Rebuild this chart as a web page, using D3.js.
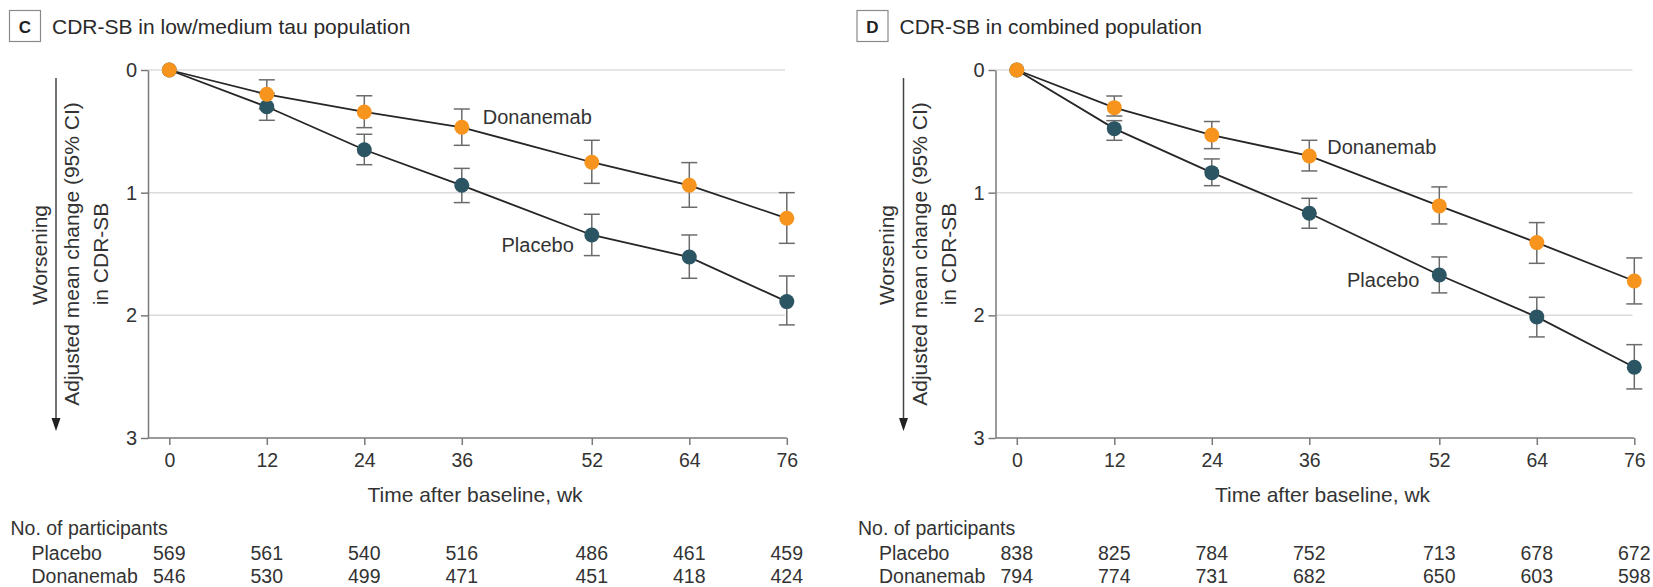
<!DOCTYPE html>
<html>
<head>
<meta charset="utf-8">
<script src="https://cdn.jsdelivr.net/npm/d3@7"></script>
<style>
  body { margin: 0; background: #fff; }
  text { font-family: "Liberation Sans", Arial, sans-serif; fill: #333; }
</style>
</head>
<body>
<svg id="chart" width="1653" height="587"></svg>
<script>
// Visit schedule (weeks after baseline)
const weeks = [0, 12, 24, 36, 52, 64, 76];
const yTicks = [0, 1, 2, 3];

// Panel C: low/medium tau population — adjusted mean change in CDR-SB with 95% CI
const cPlaceboMean = [0, 0.30, 0.65, 0.94, 1.345, 1.525, 1.888];
const cPlaceboLo   = [null, 0.19, 0.524, 0.802, 1.176, 1.345, 1.679];
const cPlaceboHi   = [null, 0.41, 0.772, 1.081, 1.513, 1.698, 2.078];
const cDonaMean    = [0, 0.198, 0.342, 0.467, 0.752, 0.94, 1.209];
const cDonaLo      = [null, 0.08, 0.21, 0.318, 0.573, 0.755, 1.0];
const cDonaHi      = [null, 0.316, 0.47, 0.614, 0.924, 1.119, 1.413];
const cPlaceboN    = [569, 561, 540, 516, 486, 461, 459];
const cDonaN       = [546, 530, 499, 471, 451, 418, 424];

// Panel D: combined population
const dPlaceboMean = [0, 0.478, 0.837, 1.168, 1.671, 2.013, 2.423];
const dPlaceboLo   = [null, 0.413, 0.725, 1.046, 1.524, 1.853, 2.239];
const dPlaceboHi   = [null, 0.573, 0.943, 1.29, 1.817, 2.176, 2.6];
const dDonaMean    = [0, 0.307, 0.53, 0.701, 1.108, 1.407, 1.72];
const dDonaLo      = [null, 0.212, 0.42, 0.573, 0.953, 1.244, 1.532];
const dDonaHi      = [null, 0.375, 0.641, 0.823, 1.255, 1.576, 1.907];
const dPlaceboN    = [838, 825, 784, 752, 713, 678, 672];
const dDonaN       = [794, 774, 731, 682, 650, 603, 598];

const COLOR_PLACEBO = "#2c5563";
const COLOR_DONA = "#f7941d";

const svg = d3.select("#chart");

function series(mean, lo, hi) {
  return weeks.map((w, i) => ({ week: w, mean: mean[i], lo: lo[i], hi: hi[i] }));
}

const panels = [
  {
    letter: "C",
    title: "CDR-SB in low/medium tau population",
    placebo: series(cPlaceboMean, cPlaceboLo, cPlaceboHi),
    dona: series(cDonaMean, cDonaLo, cDonaHi),
    placeboN: cPlaceboN,
    donaN: cDonaN,
    donaLabel: { week: 36, dx: 21, dy: -3 },
    placeboLabel: { week: 52, dx: -18, dy: 17 }
  },
  {
    letter: "D",
    title: "CDR-SB in combined population",
    placebo: series(dPlaceboMean, dPlaceboLo, dPlaceboHi),
    dona: series(dDonaMean, dDonaLo, dDonaHi),
    placeboN: dPlaceboN,
    donaN: dDonaN,
    donaLabel: { week: 36, dx: 18, dy: -2 },
    placeboLabel: { week: 52, dx: -20, dy: 12 }
  }
];

function drawPanel(p, ox) {
  const g = svg.append("g").attr("transform", `translate(${ox},0)`);

  const axisX = 148;             // vertical axis position
  const x = d3.scaleLinear().domain([0, 76]).range([169.3, 786.8]);
  const y = d3.scaleLinear().domain([0, 3]).range([70, 438]);

  // Panel letter box and title
  g.append("rect").attr("x", 9.5).attr("y", 10.5).attr("width", 31).attr("height", 31)
    .attr("fill", "none").attr("stroke", "#8a8a8a").attr("stroke-width", 1.2);
  g.append("text").attr("x", 25).attr("y", 32.5).attr("text-anchor", "middle")
    .style("font-size", "17px").style("font-weight", "bold").style("fill", "#222").text(p.letter);
  g.append("text").attr("x", 52).attr("y", 33.5)
    .style("font-size", "21px").style("fill", "#2a2a2a").text(p.title);

  // Horizontal gridlines
  g.append("g").selectAll("line").data(yTicks.filter(t => t < 3)).join("line")
    .attr("x1", axisX).attr("x2", 785)
    .attr("y1", d => y(d)).attr("y2", d => y(d))
    .attr("stroke", "#dcdcdc").attr("stroke-width", 1.5);

  // Y axis
  const yAxis = g.append("g").attr("transform", `translate(${axisX},0)`)
    .call(d3.axisLeft(y).tickValues(yTicks).tickFormat(d3.format("d")).tickSize(7).tickSizeOuter(0).tickPadding(4));
  yAxis.select(".domain").attr("stroke", "#7a7a7a").attr("stroke-width", 1.5);
  yAxis.selectAll(".tick line").attr("stroke", "#7a7a7a").attr("stroke-width", 1.5);
  yAxis.selectAll(".tick text").style("font-size", "20px").style("font-family", "Liberation Sans, Arial, sans-serif").attr("fill", "#333");

  // X axis
  const xAxis = g.append("g").attr("transform", `translate(0,${y(3)})`)
    .call(d3.axisBottom(x).tickValues(weeks).tickFormat(d3.format("d")).tickSize(7).tickSizeOuter(0).tickPadding(8));
  xAxis.select(".domain").remove();
  xAxis.append("line").attr("x1", axisX).attr("x2", x(76)).attr("y1", 0).attr("y2", 0)
    .attr("stroke", "#7a7a7a").attr("stroke-width", 1.5);
  xAxis.selectAll(".tick line").attr("stroke", "#7a7a7a").attr("stroke-width", 1.5);
  xAxis.selectAll(".tick text").style("font-size", "19.5px").style("font-family", "Liberation Sans, Arial, sans-serif").attr("fill", "#333");

  g.append("text").attr("x", 475).attr("y", 502).attr("text-anchor", "middle")
    .style("font-size", "21px").text("Time after baseline, wk");

  // Y axis title with "Worsening" arrow
  const cy = (y(0) + y(3)) / 2;
  g.append("text").attr("transform", `translate(79,${cy}) rotate(-90)`).attr("text-anchor", "middle")
    .style("font-size", "21px").text("Adjusted mean change (95% CI)");
  g.append("text").attr("transform", `translate(108,${cy}) rotate(-90)`).attr("text-anchor", "middle")
    .style("font-size", "21px").text("in CDR-SB");
  g.append("text").attr("transform", `translate(46.5,${cy + 1}) rotate(-90)`).attr("text-anchor", "middle")
    .style("font-size", "21px").text("Worsening");
  g.append("line").attr("x1", 56).attr("x2", 56).attr("y1", 78).attr("y2", 420)
    .attr("stroke", "#444").attr("stroke-width", 1.5);
  g.append("path").attr("d", "M51.5,418 L60.5,418 L56,431 Z").attr("fill", "#222");

  // Error bars
  const bars = [...p.placebo, ...p.dona].filter(d => d.lo !== null);
  const eb = g.append("g").attr("stroke", "#6b6b6b").attr("stroke-width", 1.5);
  eb.selectAll("line.v").data(bars).join("line").attr("class", "v")
    .attr("x1", d => x(d.week)).attr("x2", d => x(d.week))
    .attr("y1", d => y(d.lo)).attr("y2", d => y(d.hi));
  eb.selectAll("line.t").data(bars).join("line").attr("class", "t")
    .attr("x1", d => x(d.week) - 8).attr("x2", d => x(d.week) + 8)
    .attr("y1", d => y(d.lo)).attr("y2", d => y(d.lo));
  eb.selectAll("line.b").data(bars).join("line").attr("class", "b")
    .attr("x1", d => x(d.week) - 8).attr("x2", d => x(d.week) + 8)
    .attr("y1", d => y(d.hi)).attr("y2", d => y(d.hi));

  // Connecting lines
  const line = d3.line().x(d => x(d.week)).y(d => y(d.mean));
  [p.placebo, p.dona].forEach(s => {
    g.append("path").datum(s).attr("d", line)
      .attr("fill", "none").attr("stroke", "#262626").attr("stroke-width", 1.8);
  });

  // Points (donanemab drawn on top)
  g.append("g").selectAll("circle").data(p.placebo).join("circle")
    .attr("cx", d => x(d.week)).attr("cy", d => y(d.mean)).attr("r", 7.5)
    .attr("fill", COLOR_PLACEBO);
  g.append("g").selectAll("circle").data(p.dona).join("circle")
    .attr("cx", d => x(d.week)).attr("cy", d => y(d.mean)).attr("r", 7.5)
    .attr("fill", COLOR_DONA);

  // Series labels
  const dl = p.dona[weeks.indexOf(p.donaLabel.week)];
  g.append("text").attr("x", x(dl.week) + p.donaLabel.dx).attr("y", y(dl.mean) + p.donaLabel.dy)
    .style("font-size", "20px").text("Donanemab");
  const pl = p.placebo[weeks.indexOf(p.placeboLabel.week)];
  g.append("text").attr("x", x(pl.week) + p.placeboLabel.dx).attr("y", y(pl.mean) + p.placeboLabel.dy)
    .attr("text-anchor", "end").style("font-size", "20px").text("Placebo");

  // Number at risk table
  g.append("text").attr("x", 10.5).attr("y", 535).style("font-size", "19.5px").text("No. of participants");
  const rows = [["Placebo", p.placeboN, 560], ["Donanemab", p.donaN, 583]];
  rows.forEach(([name, counts, yy]) => {
    g.append("text").attr("x", 31.5).attr("y", yy).style("font-size", "19.5px").text(name);
    g.append("g").selectAll("text").data(counts).join("text")
      .attr("x", (d, i) => x(weeks[i])).attr("y", yy).attr("text-anchor", "middle")
      .style("font-size", "19.5px").text(d => d);
  });
}

drawPanel(panels[0], 0);
drawPanel(panels[1], 847.5);
</script>
</body>
</html>
